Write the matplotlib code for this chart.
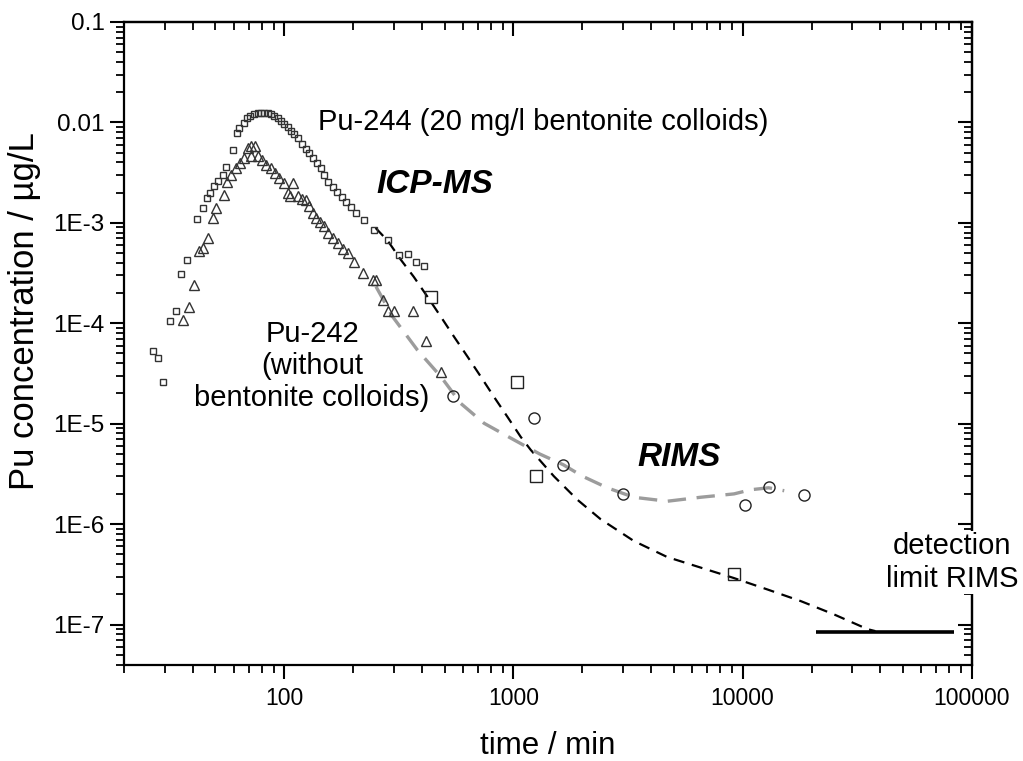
import numpy as np
import matplotlib
matplotlib.use("Agg")
import matplotlib.pyplot as plt
from matplotlib.ticker import FixedLocator, FixedFormatter, NullFormatter, LogLocator

plt.rcParams['font.family'] = ['Liberation Sans', 'DejaVu Sans']

# Pu-244 with bentonite colloids, ICP-MS (small squares)
pu244_t = [26.7, 28.1, 29.5, 31.8, 33.7, 35.5, 37.7, 41.7, 44.1, 45.9, 47.5, 49.3, 51.4,
           53.9, 55.7, 59.6, 62.0, 63.5, 66.5, 68.8, 70.9, 73.6, 76.6, 79.2, 81.5, 84.7,
           87.5, 90.4, 93.6, 96.7, 99.7, 103.5, 107, 110.5, 114.4, 119.4, 124.3, 128.5,
           133, 138.8, 144.5, 149.4, 155, 162.5, 169.7, 177.9, 185.7, 195.3, 205.3,
           222.5, 245.2, 283, 316, 345, 375, 405]
pu244_c = [5.3e-5, 4.5e-5, 2.6e-5, 1.05e-4, 1.33e-4, 3.1e-4, 4.3e-4, 1.10e-3, 1.41e-3,
           1.78e-3, 1.99e-3, 2.34e-3, 2.62e-3, 3.01e-3, 3.61e-3, 5.35e-3, 7.9e-3, 8.85e-3,
           9.9e-3, 1.11e-2, 1.17e-2, 1.21e-2, 1.25e-2, 1.25e-2, 1.25e-2, 1.24e-2, 1.22e-2,
           1.17e-2, 1.11e-2, 1.04e-2, 9.7e-3, 8.95e-3, 8.26e-3, 7.62e-3, 7.03e-3, 6.13e-3,
           5.47e-3, 4.93e-3, 4.45e-3, 3.96e-3, 3.53e-3, 3.01e-3, 2.56e-3, 2.28e-3, 2.04e-3,
           1.82e-3, 1.62e-3, 1.43e-3, 1.26e-3, 1.07e-3, 8.5e-4, 6.7e-4, 4.8e-4, 4.9e-4,
           4.1e-4, 3.75e-4]

# Pu-242 without colloids, ICP-MS (triangles)
pu242_t = [36.1, 38.3, 40.5, 42.2, 44.1, 46.4, 49.0, 50.4, 54.4, 56.3, 58.6, 61.2, 63.7,
           66.5, 69.3, 71.6, 74.5, 71.6, 76.6, 79.7, 83.2, 87.5, 91.1, 95.1, 100, 103.5,
           106.2, 108.8, 114.4, 119, 124.3, 128.5, 133, 137.5, 143.5, 149.4, 155.5, 162.5,
           170.9, 179.7, 189, 201.8, 219.6, 242.7, 250.9, 268.5, 282.1, 301.5, 362.7,
           414.5, 481.8]
pu242_c = [1.08e-4, 1.44e-4, 2.41e-4, 5.2e-4, 5.6e-4, 7.0e-4, 1.11e-3, 1.4e-3, 1.9e-3,
           2.58e-3, 3.01e-3, 3.51e-3, 3.94e-3, 4.42e-3, 5.56e-3, 5.77e-3, 5.77e-3, 4.58e-3,
           4.58e-3, 4.25e-3, 3.79e-3, 3.51e-3, 3.13e-3, 2.79e-3, 2.49e-3, 2.0e-3, 1.83e-3,
           2.52e-3, 1.83e-3, 1.72e-3, 1.69e-3, 1.46e-3, 1.25e-3, 1.11e-3, 1.01e-3, 9.2e-4,
           7.9e-4, 7.0e-4, 6.3e-4, 5.5e-4, 5.0e-4, 4.1e-4, 3.16e-4, 2.7e-4, 2.7e-4, 1.71e-4,
           1.31e-4, 1.31e-4, 1.31e-4, 6.6e-5, 3.3e-5]

# Pu-244 RIMS (large squares) and Pu-242 RIMS (circles)
rims244_t = [436, 1040, 1250, 9190]
rims244_c = [1.84e-4, 2.6e-5, 3.0e-6, 3.2e-7]
rims242_t = [542, 1228, 1650, 3010, 10220, 13060, 18580]
rims242_c = [1.9e-5, 1.13e-5, 3.9e-6, 2.0e-6, 1.56e-6, 2.36e-6, 1.96e-6]

# fitted curves
fit244_t = [250, 283, 322, 367, 421, 482, 550, 630, 720, 822, 941, 1075, 1188, 1500, 1900,
            2400, 3350, 4690, 6540, 9180, 12800, 17970, 25100, 35100, 38000]
fit244_c = [8.9e-4, 6.6e-4, 4.3e-4, 2.9e-4, 1.84e-4, 1.16e-4, 7.35e-5, 4.65e-5, 2.94e-5,
            1.85e-5, 1.17e-5, 7.4e-6, 5.5e-6, 3.0e-6, 1.75e-6, 1.12e-6, 6.8e-7, 4.7e-7,
            3.7e-7, 2.9e-7, 2.24e-7, 1.71e-7, 1.26e-7, 9.0e-8, 8.6e-8]
fit242_t = [251, 297, 381, 482, 589, 744, 1005, 1300, 1650, 2000, 2566, 3354, 4693, 6542,
            9183, 10860, 13000, 15200]
fit242_c = [2.32e-4, 1.16e-4, 5.4e-5, 2.94e-5, 1.59e-5, 1.01e-5, 6.9e-6, 5.0e-6, 3.9e-6,
            3.0e-6, 2.3e-6, 1.85e-6, 1.69e-6, 1.85e-6, 2.0e-6, 2.2e-6, 2.3e-6, 2.15e-6]

# detection limit RIMS
limit_t = [21000, 84000]
limit_c = [8.5e-8, 8.5e-8]

x_ticks = [100, 1000, 10000, 100000]
x_labels = ['100', '1000', '10000', '100000']
y_ticks = [1e-7, 1e-6, 1e-5, 1e-4, 1e-3, 1e-2, 1e-1]
y_labels = ['1E-7', '1E-6', '1E-5', '1E-4', '1E-3', '0.01', '0.1']

fig = plt.figure(figsize=(10.23, 7.61), dpi=100)
ax = fig.add_axes([0.1215, 0.1268, 0.8283, 0.8443])
ax.set_xscale('log')
ax.set_yscale('log')

ax.plot(fit244_t, fit244_c, color='black', lw=1.6, dashes=(5, 3.5))
ax.plot(fit242_t, fit242_c, color='#9c9c9c', lw=2.4, dashes=(5.5, 3.2))
ax.plot(limit_t, limit_c, color='black', lw=2.6, solid_capstyle='butt')

ax.plot(pu244_t, pu244_c, 's', ms=5, mfc='none', mec='#333333', mew=1.0)
ax.plot(pu242_t, pu242_c, '^', ms=6.5, mfc='none', mec='#333333', mew=1.0)
ax.plot(rims244_t, rims244_c, 's', ms=9, mfc='none', mec='#222222', mew=1.0)
ax.plot(rims242_t, rims242_c, 'o', ms=8, mfc='none', mec='#222222', mew=1.0)

ax.set_xlim(20, 100000)
ax.set_ylim(4e-8, 0.1)

ax.xaxis.set_major_locator(FixedLocator(x_ticks))
ax.xaxis.set_major_formatter(FixedFormatter(x_labels))
ax.yaxis.set_major_locator(FixedLocator(y_ticks))
ax.yaxis.set_major_formatter(FixedFormatter(y_labels))
ax.xaxis.set_minor_locator(LogLocator(base=10, subs=np.arange(2, 10), numticks=20))
ax.yaxis.set_minor_locator(LogLocator(base=10, subs=np.arange(2, 10), numticks=20))
ax.xaxis.set_minor_formatter(NullFormatter())
ax.yaxis.set_minor_formatter(NullFormatter())

ax.tick_params(which='major', direction='out', length=10, width=1.5, pad=4)
ax.tick_params(axis='x', which='major', labelsize=16.5, pad=6)
ax.tick_params(axis='y', which='major', labelsize=17.5)
ax.tick_params(which='minor', direction='out', length=6, width=1.3)
for s in ax.spines.values():
    s.set_linewidth(1.6)

# ticks pointing inward on top and right
top = ax.secondary_xaxis('top')
top.xaxis.set_major_locator(FixedLocator(x_ticks))
top.xaxis.set_minor_locator(LogLocator(base=10, subs=np.arange(2, 10), numticks=20))
top.xaxis.set_major_formatter(NullFormatter())
top.xaxis.set_minor_formatter(NullFormatter())
top.tick_params(which='major', direction='in', length=10, width=1.5)
top.tick_params(which='minor', direction='in', length=6, width=1.3)
right = ax.secondary_yaxis('right')
right.yaxis.set_major_locator(FixedLocator(y_ticks))
right.yaxis.set_minor_locator(LogLocator(base=10, subs=np.arange(2, 10), numticks=20))
right.yaxis.set_major_formatter(NullFormatter())
right.yaxis.set_minor_formatter(NullFormatter())
right.tick_params(which='major', direction='in', length=10, width=1.5)
right.tick_params(which='minor', direction='in', length=6, width=1.3)
top.spines['top'].set_linewidth(1.6)
right.spines['right'].set_linewidth(1.6)

ax.set_xlabel('time / min', fontsize=22.5, labelpad=15)
ax.set_ylabel('Pu concentration / µg/L', fontsize=25, labelpad=9, y=0.55)

ax.text(140, 1.0e-2, 'Pu-244 (20 mg/l bentonite colloids)', fontsize=21, va='center')
ax.text(251, 2.42e-3, 'ICP-MS', fontsize=24, fontweight='bold', fontstyle='italic', va='center')
ax.text(132, 3.75e-5, 'Pu-242\n(without\nbentonite colloids)', fontsize=21,
        ha='center', va='center', linespacing=1.2)
ax.text(3476, 4.65e-6, 'RIMS', fontsize=24, fontweight='bold', fontstyle='italic', va='center')
ax.text(82000, 4.16e-7, 'detection\nlimit RIMS', fontsize=21, ha='center', va='center',
        linespacing=1.2, zorder=5,
        bbox=dict(facecolor='white', edgecolor='none', pad=1))

fig.savefig('out.png', dpi=100)
